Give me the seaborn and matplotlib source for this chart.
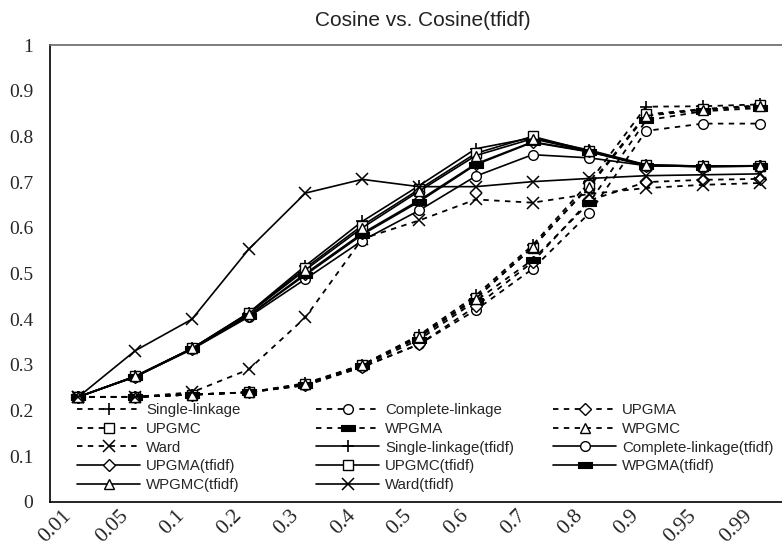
import matplotlib
matplotlib.use("Agg")
import matplotlib.pyplot as plt
import matplotlib.transforms as mtransforms
from matplotlib.lines import Line2D
from matplotlib.legend import Legend
import seaborn as sns

# x categories (threshold)
thresholds = ["0.01", "0.05", "0.1", "0.2", "0.3", "0.4", "0.5",
              "0.6", "0.7", "0.8", "0.9", "0.95", "0.99"]

# Cosine (dashed)
single = [0.23, 0.23, 0.235, 0.24, 0.26, 0.30, 0.365, 0.452, 0.562, 0.70, 0.865, 0.866, 0.870]
complete = [0.23, 0.23, 0.235, 0.24, 0.255, 0.295, 0.345, 0.42, 0.51, 0.632, 0.812, 0.828, 0.828]
upgma = [0.23, 0.23, 0.235, 0.24, 0.256, 0.296, 0.345, 0.428, 0.525, 0.66, 0.70, 0.705, 0.707]
upgmc = [0.23, 0.23, 0.235, 0.24, 0.258, 0.30, 0.362, 0.447, 0.556, 0.693, 0.848, 0.86, 0.868]
wpgma = [0.23, 0.23, 0.235, 0.24, 0.257, 0.298, 0.355, 0.44, 0.53, 0.655, 0.835, 0.855, 0.862]
wpgmc = [0.23, 0.23, 0.235, 0.24, 0.258, 0.30, 0.36, 0.445, 0.558, 0.69, 0.845, 0.858, 0.866]
ward = [0.23, 0.23, 0.24, 0.29, 0.404, 0.576, 0.616, 0.662, 0.655, 0.674, 0.687, 0.694, 0.698]

# Cosine(tfidf) (solid)
single_t = [0.23, 0.275, 0.336, 0.414, 0.517, 0.614, 0.692, 0.773, 0.797, 0.770, 0.738, 0.735, 0.736]
complete_t = [0.23, 0.274, 0.334, 0.405, 0.488, 0.572, 0.638, 0.713, 0.760, 0.753, 0.736, 0.734, 0.735]
upgma_t = [0.23, 0.274, 0.335, 0.408, 0.500, 0.588, 0.66, 0.74, 0.788, 0.767, 0.736, 0.734, 0.735]
upgmc_t = [0.23, 0.275, 0.336, 0.413, 0.512, 0.605, 0.684, 0.763, 0.800, 0.768, 0.737, 0.735, 0.735]
wpgma_t = [0.23, 0.274, 0.335, 0.408, 0.497, 0.585, 0.657, 0.738, 0.787, 0.766, 0.736, 0.734, 0.735]
wpgmc_t = [0.23, 0.275, 0.336, 0.412, 0.508, 0.600, 0.680, 0.758, 0.795, 0.767, 0.737, 0.735, 0.735]
ward_t = [0.23, 0.331, 0.400, 0.553, 0.676, 0.706, 0.690, 0.690, 0.701, 0.708, 0.714, 0.716, 0.718]

method_names = ["Single-linkage", "Complete-linkage", "UPGMA", "UPGMC",
                "WPGMA", "WPGMC", "Ward"]
cosine_series = [single, complete, upgma, upgmc, wpgma, wpgmc, ward]
tfidf_series = [single_t, complete_t, upgma_t, upgmc_t, wpgma_t, wpgmc_t, ward_t]

# horizontal filled bar used for WPGMA
bar_marker = [(-1, -0.42), (1, -0.42), (1, 0.42), (-1, 0.42), (-1, -0.42)]
marker_style = {
    "Single-linkage": dict(marker="+", ms=9, mew=1.2),
    "Complete-linkage": dict(marker="o", ms=7, mfc="white", mew=1.0),
    "UPGMA": dict(marker="D", ms=6, mfc="white", mew=1.0),
    "UPGMC": dict(marker="s", ms=7, mfc="white", mew=1.0),
    "WPGMA": dict(marker=bar_marker, ms=10, mfc="black", mew=0.8),
    "WPGMC": dict(marker="^", ms=7, mfc="white", mew=1.0),
    "Ward": dict(marker="x", ms=8.5, mew=1.1),
}

sns.set_style("white")
plt.rcParams["font.family"] = ["Liberation Sans", "DejaVu Sans"]

fig = plt.figure(figsize=(7.82, 5.59), dpi=100)
W, H = 782, 559
ax = fig.add_axes([50 / W, 57 / H, 738 / W, 457 / H])

xs = list(range(len(thresholds)))
handles = []
for name, vals in zip(method_names, cosine_series):
    sns.lineplot(x=xs, y=vals, ax=ax, color="black", linestyle=(0, (3, 3)),
                 lw=1.3, mec="black", **marker_style[name])
    handles.append(Line2D([], [], color="black", linestyle=(0, (3, 3)), lw=1.3,
                          mec="black", label=name, **marker_style[name]))
for name, vals in zip(method_names, tfidf_series):
    sns.lineplot(x=xs, y=vals, ax=ax, color="black", linestyle="-",
                 lw=1.2, mec="black", **marker_style[name])
    handles.append(Line2D([], [], color="black", linestyle="-", lw=1.2,
                          mec="black", label=name + "(tfidf)", **marker_style[name]))

ax.set_xlim(-0.5, len(thresholds) - 0.5)
ax.set_ylim(0, 1)
ax.set_xlabel("")
ax.set_ylabel("")

ax.set_yticks([i / 10 for i in range(11)])
ax.set_yticklabels(["0"] + [f"0.{i}" for i in range(1, 10)] + ["1"],
                   family="Liberation Serif", fontsize=14)
ax.tick_params(axis="y", direction="in", length=5, width=1, pad=12, color="black")

ax.set_xticks(xs)
ax.set_xticklabels(thresholds, rotation=45, ha="right", va="top",
                   family="Liberation Serif", fontsize=15.5)
ax.set_xticks([x + 0.5 for x in xs], minor=True)
ax.tick_params(axis="x", which="major", length=0, pad=3)
ax.tick_params(axis="x", which="minor", direction="in", length=4, width=1, color="black")
offset = mtransforms.ScaledTranslation(-3 / 100, 0, fig.dpi_scale_trans)
for lbl in ax.get_xticklabels():
    lbl.set_transform(lbl.get_transform() + offset)

for side in ["left", "bottom"]:
    ax.spines[side].set_color("black")
    ax.spines[side].set_linewidth(1.2)
ax.spines["top"].set_color("#666666")
ax.spines["top"].set_linewidth(1.2)
ax.spines["right"].set_visible(False)

fig.text(423 / W, 1 - 21 / H, "Cosine vs. Cosine(tfidf)", ha="center", va="center",
         fontsize=15, color="#222222")

# legend laid out in three fixed-width columns, filled row by row
col_x = [77, 316, 553]
for c in range(3):
    col_handles = handles[c::3]
    leg = Legend(ax, col_handles, [h.get_label() for h in col_handles],
                 loc="upper left", bbox_to_anchor=(col_x[c] / W, 1 - 403 / H),
                 bbox_transform=fig.transFigure, frameon=False,
                 fontsize=10.8, handlelength=4.2, handletextpad=0.4,
                 labelspacing=0.32, borderpad=0, borderaxespad=0, numpoints=1)
    ax.add_artist(leg)

fig.savefig("out.png", dpi=100)
